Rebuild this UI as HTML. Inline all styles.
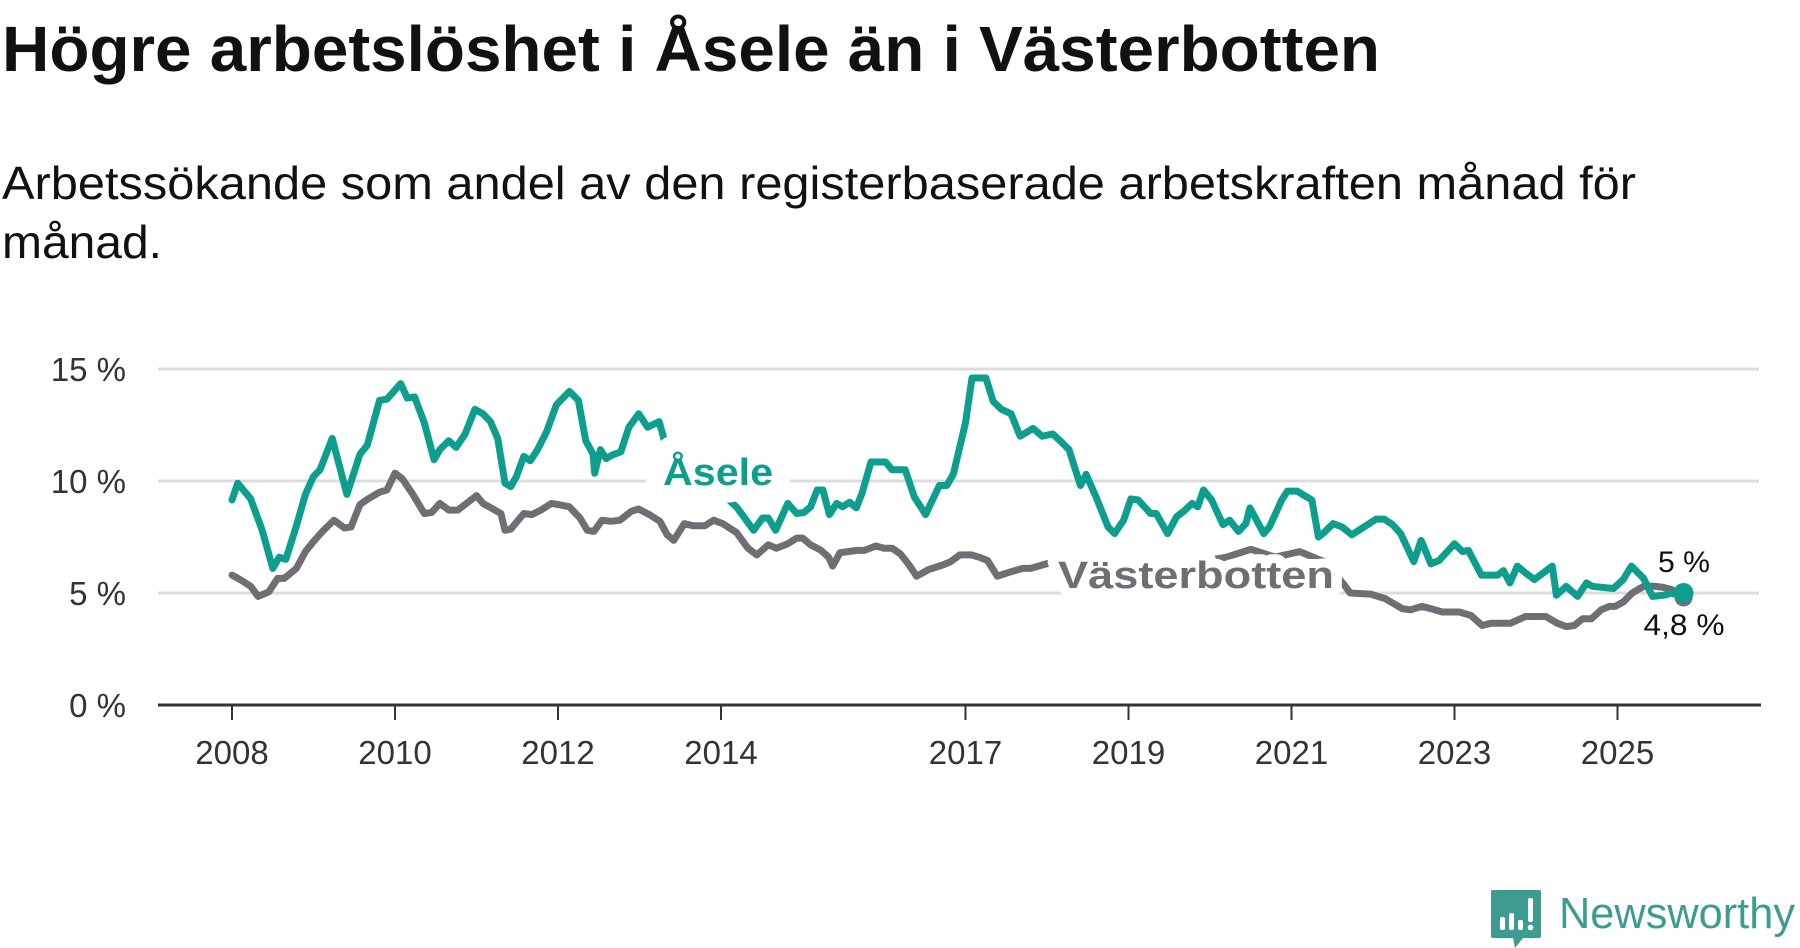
<!DOCTYPE html>
<html><head><meta charset="utf-8"><style>
html,body{margin:0;padding:0;background:#fff;}
svg{display:block;font-family:"Liberation Sans",sans-serif;}
</style></head><body>
<svg id="chart" width="1800" height="948" viewBox="0 0 1800 948">
<text x="2" y="71" font-size="64" font-weight="bold" fill="#111" textLength="1378" lengthAdjust="spacingAndGlyphs">Högre arbetslöshet i Åsele än i Västerbotten</text>
<text x="2" y="199" font-size="46" fill="#111" textLength="1634" lengthAdjust="spacingAndGlyphs">Arbetssökande som andel av den registerbaserade arbetskraften månad för</text>
<text x="2" y="258" font-size="46" fill="#111" textLength="160" lengthAdjust="spacingAndGlyphs">månad.</text>
<g id="grid"></g>
<g id="xaxis"></g>
<g id="series"></g>
<g id="labels"></g>
<g>
<path d="M1493 890 h46 a2 2 0 0 1 2 2 v44 a2 2 0 0 1 -2 2 h-16 l-8 10 l-2 -10 h-20 a2 2 0 0 1 -2 -2 v-44 a2 2 0 0 1 2 -2z" fill="#3d9b8f"/>
<rect x="1500" y="917" width="5" height="13" rx="2" fill="#fff"/>
<rect x="1509" y="913" width="5" height="17" rx="2" fill="#fff"/>
<rect x="1518" y="920" width="5" height="10" rx="2" fill="#fff"/>
<rect x="1528" y="898" width="5" height="24" rx="2" fill="#fff"/>
<circle cx="1530.5" cy="927.5" r="2.8" fill="#fff"/>
<text x="1559" y="928" font-size="44" fill="#3d9b8f" textLength="236" lengthAdjust="spacingAndGlyphs">Newsworthy</text>
</g>
</svg>
<script>
const yTicks = [0, 5, 10, 15];
const yTickLabels = ["0 %", "5 %", "10 %", "15 %"];
const xTicks = [2008, 2010, 2012, 2014, 2017, 2019, 2021, 2023, 2025];
const aseleDates = [2008.0,2008.07,2008.23,2008.37,2008.5,2008.58,2008.66,2008.79,2008.9,2009.0,2009.08,2009.23,2009.41,2009.57,2009.66,2009.81,2009.9,2010.07,2010.15,2010.24,2010.36,2010.48,2010.55,2010.66,2010.75,2010.86,2010.98,2011.08,2011.17,2011.26,2011.35,2011.42,2011.49,2011.58,2011.66,2011.75,2011.86,2011.98,2012.14,2012.25,2012.34,2012.43,2012.45,2012.52,2012.59,2012.66,2012.77,2012.87,2012.99,2013.1,2013.24,2013.31,2013.4,2013.6,2013.8,2014.0,2014.2,2014.4,2014.51,2014.58,2014.67,2014.82,2014.93,2015.02,2015.1,2015.18,2015.25,2015.33,2015.42,2015.49,2015.58,2015.66,2015.73,2015.84,2016.02,2016.1,2016.26,2016.37,2016.51,2016.68,2016.77,2016.85,2017.0,2017.08,2017.25,2017.34,2017.44,2017.56,2017.67,2017.83,2017.94,2018.07,2018.16,2018.27,2018.41,2018.48,2018.6,2018.75,2018.83,2018.94,2019.03,2019.12,2019.27,2019.34,2019.48,2019.59,2019.68,2019.78,2019.85,2019.92,2020.02,2020.16,2020.24,2020.35,2020.44,2020.49,2020.66,2020.73,2020.88,2020.95,2021.07,2021.16,2021.25,2021.33,2021.4,2021.51,2021.62,2021.74,2021.87,2022.04,2022.14,2022.24,2022.34,2022.5,2022.59,2022.71,2022.81,2023.0,2023.1,2023.17,2023.33,2023.45,2023.53,2023.6,2023.68,2023.77,2023.87,2023.98,2024.2,2024.25,2024.37,2024.51,2024.62,2024.69,2024.95,2025.07,2025.17,2025.32,2025.43,2025.57,2025.67,2025.74,2025.81];
const aseleValues = [9.15,9.9,9.2,7.8,6.1,6.6,6.5,8.0,9.4,10.2,10.5,11.9,9.4,11.2,11.6,13.6,13.65,14.35,13.7,13.75,12.6,10.95,11.4,11.8,11.5,12.1,13.2,13.0,12.65,11.9,9.9,9.75,10.2,11.1,10.9,11.4,12.2,13.4,14.0,13.6,11.8,11.2,10.35,11.4,11.0,11.15,11.3,12.4,13.0,12.4,12.65,11.75,11.1,10.3,9.5,9.5,8.8,7.8,8.35,8.35,7.8,9.0,8.55,8.6,8.85,9.6,9.6,8.5,9.0,8.85,9.05,8.8,9.45,10.85,10.85,10.5,10.5,9.3,8.5,9.8,9.8,10.3,12.6,14.6,14.6,13.55,13.2,13.0,12.0,12.35,12.0,12.1,11.8,11.4,9.8,10.3,9.3,7.95,7.65,8.25,9.2,9.15,8.55,8.55,7.65,8.4,8.65,9.0,8.85,9.6,9.15,8.05,8.25,7.75,8.1,8.8,7.65,7.95,9.15,9.55,9.55,9.35,9.15,7.5,7.7,8.1,7.95,7.6,7.9,8.3,8.3,8.05,7.65,6.4,7.35,6.3,6.45,7.2,6.85,6.9,5.8,5.8,5.8,6.0,5.45,6.2,5.9,5.6,6.2,4.9,5.3,4.85,5.45,5.3,5.2,5.6,6.2,5.65,4.85,4.9,5.0,4.9,5.0,5.0];
const vbDates = [2008.0,2008.1,2008.23,2008.32,2008.45,2008.56,2008.64,2008.79,2008.9,2009.0,2009.11,2009.25,2009.38,2009.46,2009.57,2009.67,2009.81,2009.9,2010.0,2010.09,2010.22,2010.36,2010.45,2010.55,2010.66,2010.77,2010.86,2011.0,2011.08,2011.3,2011.35,2011.42,2011.58,2011.68,2011.79,2011.92,2012.0,2012.14,2012.27,2012.36,2012.44,2012.54,2012.65,2012.76,2012.9,2012.99,2013.12,2013.25,2013.34,2013.42,2013.55,2013.66,2013.8,2013.91,2014.02,2014.19,2014.33,2014.44,2014.58,2014.68,2014.82,2014.93,2015.0,2015.1,2015.23,2015.32,2015.37,2015.46,2015.56,2015.67,2015.76,2015.9,2016.0,2016.1,2016.2,2016.3,2016.4,2016.55,2016.72,2016.82,2016.93,2017.07,2017.17,2017.27,2017.39,2017.56,2017.7,2017.8,2017.99,2018.09,2018.2,2018.5,2018.8,2019.0,2019.3,2019.6,2019.9,2020.2,2020.5,2020.8,2021.1,2021.4,2021.65,2021.72,2021.97,2022.15,2022.36,2022.46,2022.6,2022.71,2022.85,2023.06,2023.2,2023.34,2023.45,2023.69,2023.87,2024.12,2024.26,2024.37,2024.47,2024.57,2024.68,2024.8,2024.9,2024.97,2025.07,2025.18,2025.32,2025.46,2025.56,2025.67,2025.81];
const vbValues = [5.8,5.6,5.3,4.85,5.05,5.65,5.65,6.1,6.85,7.3,7.75,8.25,7.9,7.95,8.95,9.2,9.5,9.6,10.35,10.1,9.4,8.55,8.6,9.0,8.7,8.7,8.95,9.35,9.0,8.55,7.8,7.85,8.55,8.5,8.7,9.0,8.95,8.85,8.35,7.8,7.75,8.25,8.2,8.25,8.65,8.75,8.5,8.2,7.6,7.35,8.1,8.0,8.0,8.25,8.1,7.7,7.0,6.7,7.15,7.0,7.2,7.45,7.45,7.15,6.9,6.6,6.2,6.8,6.85,6.9,6.9,7.1,7.0,7.0,6.75,6.3,5.75,6.05,6.25,6.4,6.7,6.7,6.6,6.45,5.75,5.95,6.1,6.1,6.3,6.4,6.3,6.0,5.9,6.2,6.3,6.1,6.4,6.6,6.95,6.6,6.85,6.4,5.35,5.0,4.95,4.75,4.3,4.25,4.4,4.3,4.15,4.15,4.0,3.55,3.65,3.65,3.95,3.95,3.65,3.5,3.55,3.85,3.85,4.25,4.4,4.4,4.6,5.0,5.3,5.3,5.25,5.15,4.8];

const NS = "http://www.w3.org/2000/svg";
const X0 = 232, PX_PER_YEAR = 81.5, Y0 = 705, PX_PER_PCT = 22.4;
function xScale(t) { return X0 + (t - 2008) * PX_PER_YEAR; }
function yScale(v) { return Y0 - v * PX_PER_PCT; }
function mk(tag, attrs, parent) {
  const el = document.createElementNS(NS, tag);
  for (const k in attrs) el.setAttribute(k, attrs[k]);
  parent.appendChild(el);
  return el;
}
const grid = document.getElementById('grid');
yTicks.forEach((v, i) => {
  if (v > 0) {
    const gl = mk('line', {x1: 158, x2: 1759, y1: yScale(v), y2: yScale(v), stroke: '#dcdcdc', 'stroke-width': 3}, grid);
    
    
  }
  const t = mk('text', {x: 126, y: yScale(v) + 12, 'text-anchor': 'end', 'font-size': 33, fill: '#333'}, grid);
  t.textContent = yTickLabels[i];
  
  
});
const xa = document.getElementById('xaxis');
const axisLine = mk('line', {x1: 158, x2: 1761, y1: Y0, y2: Y0, stroke: '#333', 'stroke-width': 3}, xa);


xTicks.forEach(yr => {
  const tk = mk('line', {x1: xScale(yr), x2: xScale(yr), y1: Y0, y2: Y0 + 15, stroke: '#333', 'stroke-width': 2}, xa);
  
  
  const t = mk('text', {x: xScale(yr), y: 764, 'text-anchor': 'middle', 'font-size': 33, fill: '#333'}, xa);
  t.textContent = String(yr);
  
  
});
const series = document.getElementById('series');
function pts(d, v) { return d.map((t, i) => xScale(t).toFixed(1) + ',' + yScale(v[i]).toFixed(1)).join(' '); }
const vbLine = mk('polyline', {points: pts(vbDates, vbValues), fill: 'none', stroke: '#6f6e74', 'stroke-width': 7, 'stroke-linejoin': 'round', 'stroke-linecap': 'round'}, series);


const asLine = mk('polyline', {points: pts(aseleDates, aseleValues), fill: 'none', stroke: '#0e9e8e', 'stroke-width': 7, 'stroke-linejoin': 'round', 'stroke-linecap': 'round'}, series);


const vl = vbDates.length - 1, al = aseleDates.length - 1;
const vbDot = mk('circle', {cx: xScale(vbDates[vl]), cy: yScale(vbValues[vl]), r: 9, fill: '#6f6e74'}, series);


const asDot = mk('circle', {cx: xScale(aseleDates[al]), cy: yScale(aseleValues[al]), r: 10, fill: '#0e9e8e'}, series);


const labels = document.getElementById('labels');
function lab(txt, x, y, color, name, anchor, bold, len, halo) {
  const t = mk('text', {x: x, y: y, 'font-size': bold ? 38 : 30, 'font-weight': bold ? 'bold' : 'normal', fill: color, 'text-anchor': anchor, stroke: '#fff', 'stroke-width': halo, 'paint-order': 'stroke', 'stroke-linejoin': 'round'}, labels);
  if (len) { t.setAttribute('textLength', len); t.setAttribute('lengthAdjust', 'spacingAndGlyphs'); }
  t.textContent = txt;
  
  
}
lab('Åsele', 663, 485, '#0e9e8e', 'asele-series-label', 'start', true, 110, 34);
lab('Västerbotten', 1058, 588, '#6f6e74', 'vasterbotten-series-label', 'start', true, 276, 18);
lab(aseleValues[al].toFixed(0).replace('.', ',') + ' %', 1684, 572, '#111', 'asele-end-label', 'middle', false, 52, 6);
lab(vbValues[vl].toFixed(1).replace('.', ',') + ' %', 1684, 635, '#111', 'vasterbotten-end-label', 'middle', false, 81, 6);
</script>
</body></html>
